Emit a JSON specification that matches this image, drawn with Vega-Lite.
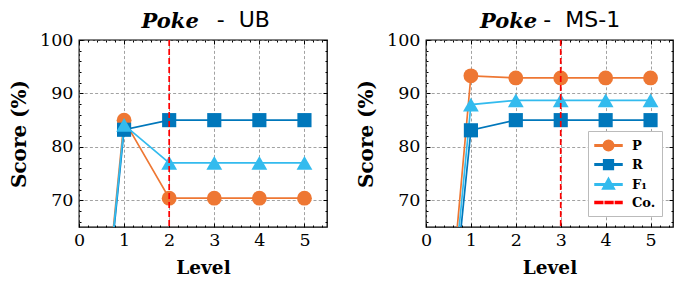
{
  "$schema": "https://vega.github.io/schema/vega-lite/v6.json",
  "padding": {"left": 8, "top": 8, "right": 5, "bottom": 4},
  "background": "white",
  "spacing": 26,
  "config": {
    "font": "DejaVu Serif",
    "view": {"stroke": "black", "strokeWidth": 1.3},
    "axis": {
      "labelFont": "DejaVu Serif",
      "labelFontSize": 17.5,
      "labelColor": "black",
      "titleFont": "DejaVu Serif",
      "titleFontWeight": "bold",
      "titleFontSize": 18.5,
      "titleColor": "black",
      "tickColor": "black",
      "tickWidth": 1,
      "domain": false,
      "labelFlush": false,
      "labelOverlap": false,
      "gridColor": "#8a8a8a",
      "gridDash": [3, 2.2],
      "gridWidth": 0.8
    }
  },
  "resolve": {"legend": {"color": "independent", "shape": "independent"}},
  "hconcat": [
    {
      "width": 248,
      "height": 187,
      "title": {
        "text": "Poke\u2800\u2800\u2800\u2800",
        "subtitle": "\u2800\u2800\u2800\u2800\u2800-\u00a0\u00a0UB",
        "font": "DejaVu Serif",
        "fontStyle": "italic",
        "fontWeight": "bold",
        "fontSize": 21,
        "color": "black",
        "subtitleFont": "DejaVu Sans",
        "subtitleFontSize": 22,
        "subtitleColor": "black",
        "subtitlePadding": -21.8,
        "anchor": "middle",
        "offset": -3
      },
      "data": {"values": [
        {"level": 0, "series": "P", "value": 0}, {"level": 1, "series": "P", "value": 85.0}, {"level": 2, "series": "P", "value": 70.4}, {"level": 3, "series": "P", "value": 70.4}, {"level": 4, "series": "P", "value": 70.4}, {"level": 5, "series": "P", "value": 70.4},
        {"level": 0, "series": "R", "value": 0}, {"level": 1, "series": "R", "value": 83.2}, {"level": 2, "series": "R", "value": 85.0}, {"level": 3, "series": "R", "value": 85.0}, {"level": 4, "series": "R", "value": 85.0}, {"level": 5, "series": "R", "value": 85.0},
        {"level": 0, "series": "F₁", "value": 0}, {"level": 1, "series": "F₁", "value": 84.1}, {"level": 2, "series": "F₁", "value": 77.0}, {"level": 3, "series": "F₁", "value": 77.0}, {"level": 4, "series": "F₁", "value": 77.0}, {"level": 5, "series": "F₁", "value": 77.0}
      ]},
      "resolve": {"axis": {"x": "independent", "y": "independent"}},
      "layer": [
        {
          "mark": {"type": "line", "clip": true, "strokeWidth": 1.7},
          "encoding": {
            "x": {"field": "level", "type": "quantitative", "scale": {"domain": [0, 5.5], "nice": false, "zero": false},
              "axis": {"orient": "bottom", "title": "Level", "values": [0,0.2,0.4,0.6,0.8,1,1.2,1.4,1.6,1.8,2,2.2,2.4,2.6,2.8,3,3.2,3.4,3.6,3.8,4,4.2,4.4,4.6,4.8,5,5.2,5.4],
                "labelExpr": "abs(datum.value - round(datum.value)) < 0.01 ? '' + round(datum.value) : ''",
                "tickSize": {"condition": {"test": "abs(datum.value - round(datum.value)) < 0.01", "value": -4}, "value": -2},
                "gridOpacity": {"condition": {"test": "abs(datum.value - round(datum.value)) < 0.01", "value": 1}, "value": 0},
                "labelPadding": 8, "titlePadding": 8}},
            "y": {"field": "value", "type": "quantitative", "scale": {"domain": [65, 100], "nice": false, "zero": false},
              "axis": {"orient": "left", "title": "Score (%)", "titleFontSize": 20, "values": [66,68,70,72,74,76,78,80,82,84,86,88,90,92,94,96,98,100],
                "labelExpr": "datum.value % 10 === 0 ? '' + datum.value : ''",
                "tickSize": {"condition": {"test": "datum.value % 10 === 0", "value": -4}, "value": -2},
                "gridOpacity": {"condition": {"test": "datum.value % 10 === 0", "value": 1}, "value": 0},
                "labelPadding": 10, "titlePadding": 10}},
            "color": {"field": "series", "type": "nominal", "scale": {"domain": ["P", "R", "F₁", "Co."], "range": ["#EE7733", "#0077BB", "#33BBEE", "#FF0000"]}, "legend": null}
          }
        },
        {
          "transform": [{"filter": "datum.series === 'P'"}],
          "mark": {"type": "point", "shape": "circle", "filled": true, "clip": true, "size": 220, "opacity": 1},
          "encoding": {
            "x": {"field": "level", "type": "quantitative",
              "axis": {"orient": "top", "title": null, "labels": false, "grid": false, "values": [0,0.2,0.4,0.6,0.8,1,1.2,1.4,1.6,1.8,2,2.2,2.4,2.6,2.8,3,3.2,3.4,3.6,3.8,4,4.2,4.4,4.6,4.8,5,5.2,5.4],
                "tickSize": {"condition": {"test": "abs(datum.value - round(datum.value)) < 0.01", "value": -4}, "value": -2}}},
            "y": {"field": "value", "type": "quantitative",
              "axis": {"orient": "right", "title": null, "labels": false, "grid": false, "values": [66,68,70,72,74,76,78,80,82,84,86,88,90,92,94,96,98,100],
                "tickSize": {"condition": {"test": "datum.value % 10 === 0", "value": -4}, "value": -2}}},
            "color": {"field": "series", "type": "nominal", "scale": {"domain": ["P", "R", "F₁", "Co."], "range": ["#EE7733", "#0077BB", "#33BBEE", "#FF0000"]}, "legend": null}
          }
        },
        {
          "transform": [{"filter": "datum.series === 'R'"}],
          "mark": {"type": "point", "shape": "square", "filled": true, "clip": true, "size": 200, "opacity": 1},
          "encoding": {
            "x": {"field": "level", "type": "quantitative", "axis": null},
            "y": {"field": "value", "type": "quantitative", "axis": null},
            "color": {"field": "series", "type": "nominal", "scale": {"domain": ["P", "R", "F₁", "Co."], "range": ["#EE7733", "#0077BB", "#33BBEE", "#FF0000"]}, "legend": null}
          }
        },
        {
          "transform": [{"filter": "datum.series === 'F₁'"}],
          "mark": {"type": "point", "shape": "triangle-up", "filled": true, "clip": true, "size": 250, "opacity": 1},
          "encoding": {
            "x": {"field": "level", "type": "quantitative", "axis": null},
            "y": {"field": "value", "type": "quantitative", "axis": null},
            "color": {"field": "series", "type": "nominal", "scale": {"domain": ["P", "R", "F₁", "Co."], "range": ["#EE7733", "#0077BB", "#33BBEE", "#FF0000"]}, "legend": null}
          }
        },
        {
          "data": {"values": [{"level": 2, "series": "Co."}]},
          "mark": {"type": "rule", "clip": true, "strokeWidth": 1.7, "strokeDash": [6, 3]},
          "encoding": {
            "x": {"field": "level", "type": "quantitative", "axis": null},
            "color": {"field": "series", "type": "nominal", "scale": {"domain": ["P", "R", "F₁", "Co."], "range": ["#EE7733", "#0077BB", "#33BBEE", "#FF0000"]}, "legend": null}
          }
        }
      ]
    },
    {
      "width": 247,
      "height": 187,
      "title": {
        "text": "Poke\u2800\u2800\u2800\u2800\u2800",
        "subtitle": "\u2800\u2800\u2800\u2800-\u00a0\u00a0MS-1",
        "font": "DejaVu Serif",
        "fontStyle": "italic",
        "fontWeight": "bold",
        "fontSize": 21,
        "color": "black",
        "subtitleFont": "DejaVu Sans",
        "subtitleFontSize": 22,
        "subtitleColor": "black",
        "subtitlePadding": -21.8,
        "anchor": "middle",
        "offset": -3
      },
      "data": {"values": [
        {"level": 0, "series": "P", "value": 0}, {"level": 1, "series": "P", "value": 93.3}, {"level": 2, "series": "P", "value": 92.9}, {"level": 3, "series": "P", "value": 92.9}, {"level": 4, "series": "P", "value": 92.9}, {"level": 5, "series": "P", "value": 92.9},
        {"level": 0, "series": "R", "value": 0}, {"level": 1, "series": "R", "value": 83.1}, {"level": 2, "series": "R", "value": 85.0}, {"level": 3, "series": "R", "value": 85.0}, {"level": 4, "series": "R", "value": 85.0}, {"level": 5, "series": "R", "value": 85.0},
        {"level": 0, "series": "F₁", "value": 0}, {"level": 1, "series": "F₁", "value": 87.9}, {"level": 2, "series": "F₁", "value": 88.7}, {"level": 3, "series": "F₁", "value": 88.7}, {"level": 4, "series": "F₁", "value": 88.7}, {"level": 5, "series": "F₁", "value": 88.7}
      ]},
      "resolve": {"axis": {"x": "independent", "y": "independent"}},
      "layer": [
        {
          "mark": {"type": "line", "clip": true, "strokeWidth": 1.7},
          "encoding": {
            "x": {"field": "level", "type": "quantitative", "scale": {"domain": [0, 5.5], "nice": false, "zero": false},
              "axis": {"orient": "bottom", "title": "Level", "values": [0,0.2,0.4,0.6,0.8,1,1.2,1.4,1.6,1.8,2,2.2,2.4,2.6,2.8,3,3.2,3.4,3.6,3.8,4,4.2,4.4,4.6,4.8,5,5.2,5.4],
                "labelExpr": "abs(datum.value - round(datum.value)) < 0.01 ? '' + round(datum.value) : ''",
                "tickSize": {"condition": {"test": "abs(datum.value - round(datum.value)) < 0.01", "value": -4}, "value": -2},
                "gridOpacity": {"condition": {"test": "abs(datum.value - round(datum.value)) < 0.01", "value": 1}, "value": 0},
                "labelPadding": 8, "titlePadding": 8}},
            "y": {"field": "value", "type": "quantitative", "scale": {"domain": [65, 100], "nice": false, "zero": false},
              "axis": {"orient": "left", "title": "Score (%)", "titleFontSize": 20, "values": [66,68,70,72,74,76,78,80,82,84,86,88,90,92,94,96,98,100],
                "labelExpr": "datum.value % 10 === 0 ? '' + datum.value : ''",
                "tickSize": {"condition": {"test": "datum.value % 10 === 0", "value": -4}, "value": -2},
                "gridOpacity": {"condition": {"test": "datum.value % 10 === 0", "value": 1}, "value": 0},
                "labelPadding": 10, "titlePadding": 10}},
            "color": {"field": "series", "type": "nominal", "scale": {"domain": ["P", "R", "F₁", "Co."], "range": ["#EE7733", "#0077BB", "#33BBEE", "#FF0000"]}}
          }
        },
        {
          "transform": [{"filter": "datum.series === 'P'"}],
          "mark": {"type": "point", "shape": "circle", "filled": true, "clip": true, "size": 220, "opacity": 1},
          "encoding": {
            "x": {"field": "level", "type": "quantitative",
              "axis": {"orient": "top", "title": null, "labels": false, "grid": false, "values": [0,0.2,0.4,0.6,0.8,1,1.2,1.4,1.6,1.8,2,2.2,2.4,2.6,2.8,3,3.2,3.4,3.6,3.8,4,4.2,4.4,4.6,4.8,5,5.2,5.4],
                "tickSize": {"condition": {"test": "abs(datum.value - round(datum.value)) < 0.01", "value": -4}, "value": -2}}},
            "y": {"field": "value", "type": "quantitative",
              "axis": {"orient": "right", "title": null, "labels": false, "grid": false, "values": [66,68,70,72,74,76,78,80,82,84,86,88,90,92,94,96,98,100],
                "tickSize": {"condition": {"test": "datum.value % 10 === 0", "value": -4}, "value": -2}}},
            "color": {"field": "series", "type": "nominal", "scale": {"domain": ["P", "R", "F₁", "Co."], "range": ["#EE7733", "#0077BB", "#33BBEE", "#FF0000"]}}
          }
        },
        {
          "transform": [{"filter": "datum.series === 'R'"}],
          "mark": {"type": "point", "shape": "square", "filled": true, "clip": true, "size": 200, "opacity": 1},
          "encoding": {
            "x": {"field": "level", "type": "quantitative", "axis": null},
            "y": {"field": "value", "type": "quantitative", "axis": null},
            "color": {"field": "series", "type": "nominal", "scale": {"domain": ["P", "R", "F₁", "Co."], "range": ["#EE7733", "#0077BB", "#33BBEE", "#FF0000"]}}
          }
        },
        {
          "transform": [{"filter": "datum.series === 'F₁'"}],
          "mark": {"type": "point", "shape": "triangle-up", "filled": true, "clip": true, "size": 250, "opacity": 1},
          "encoding": {
            "x": {"field": "level", "type": "quantitative", "axis": null},
            "y": {"field": "value", "type": "quantitative", "axis": null},
            "color": {"field": "series", "type": "nominal", "scale": {"domain": ["P", "R", "F₁", "Co."], "range": ["#EE7733", "#0077BB", "#33BBEE", "#FF0000"]}}
          }
        },
        {
          "data": {"values": [{"level": 3, "series": "Co."}]},
          "mark": {"type": "rule", "clip": true, "strokeWidth": 1.7, "strokeDash": [6, 3]},
          "encoding": {
            "x": {"field": "level", "type": "quantitative", "axis": null},
            "color": {"field": "series", "type": "nominal", "scale": {"domain": ["P", "R", "F₁", "Co."], "range": ["#EE7733", "#0077BB", "#33BBEE", "#FF0000"]}}
          }
        },
        {
          "transform": [{"filter": "datum.level === 0"}],
          "mark": {"type": "point", "filled": true, "clip": true, "size": 225, "opacity": 1},
          "encoding": {
            "x": {"field": "level", "type": "quantitative", "axis": null},
            "y": {"field": "value", "type": "quantitative", "axis": null},
            "color": {"field": "series", "type": "nominal", "scale": {"domain": ["P", "R", "F₁", "Co."], "range": ["#EE7733", "#0077BB", "#33BBEE", "#FF0000"]},
              "legend": {"title": null, "orient": "bottom-right", "offset": 11, "strokeColor": "#bbbbbb", "fillColor": "white", "padding": 6,
                "labelFont": "DejaVu Serif", "labelFontWeight": "bold", "labelFontSize": 13, "labelColor": "black", "labelOffset": 21, "rowPadding": 2, "symbolSize": 225}},
            "shape": {"field": "series", "type": "nominal", "scale": {"domain": ["P", "R", "F₁", "Co."], "range": [
                "M-1,-0.11H2.6V0.11H-1ZM1.5,0A0.7,0.7,0,1,1,0.1,0A0.7,0.7,0,1,1,1.5,0Z",
                "M-1,-0.11H2.6V0.11H-1ZM0.15,-0.65H1.45V0.65H0.15Z",
                "M-1,-0.11H2.6V0.11H-1ZM0.8,-0.85L1.6,0.6L0,0.6Z",
                "M-1,-0.12H0.03V0.12H-1ZM0.36,-0.12H1.39V0.12H0.36ZM1.72,-0.12H2.6V0.12H1.72Z"]},
              "legend": {"title": null, "orient": "bottom-right", "offset": 11, "strokeColor": "#bbbbbb", "fillColor": "white", "padding": 6,
                "labelFont": "DejaVu Serif", "labelFontWeight": "bold", "labelFontSize": 13, "labelColor": "black", "labelOffset": 21, "rowPadding": 2, "symbolSize": 225}}
          }
        }
      ]
    }
  ]
}
